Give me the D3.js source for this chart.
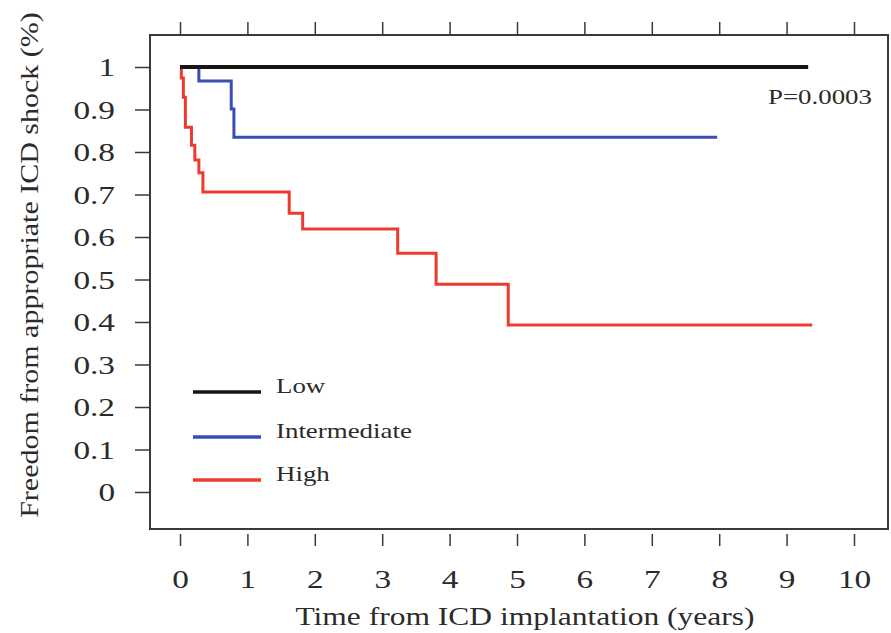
<!DOCTYPE html>
<html>
<head>
<meta charset="utf-8">
<script src="https://cdn.jsdelivr.net/npm/d3@7"></script>
<style>
  body { margin: 0; background: #fff; }
  svg text { font-family: "Liberation Serif", "Times New Roman", serif; fill: #2b2b2b; }
</style>
</head>
<body>
<div id="chart"></div>
<script>
// Kaplan-Meier curves (time in years, freedom from shock)
var lowTime = [0, 9.32];
var lowSurv = [1, 1];
var interTime = [0, 0.28, 0.76, 0.80, 7.97];
var interSurv = [1, 0.967, 0.901, 0.835, 0.835];
var highTime = [0, 0.02, 0.05, 0.08, 0.17, 0.22, 0.28, 0.34, 1.62, 1.82, 3.23, 3.80, 4.87, 9.38];
var highSurv = [1, 0.974, 0.929, 0.858, 0.816, 0.781, 0.751, 0.706, 0.656, 0.619, 0.562, 0.489, 0.393, 0.393];
var groupNames = ['Low', 'Intermediate', 'High'];
var groupColors = ['#161616', '#3a4db2', '#ef3b2f'];
var xTicks = [0, 1, 2, 3, 4, 5, 6, 7, 8, 9, 10];
var yTicks = [0, 0.1, 0.2, 0.3, 0.4, 0.5, 0.6, 0.7, 0.8, 0.9, 1];
var pText = 'P=0.0003';

(function() {
  var W = 891, H = 633, box, x, y, svg, line, series, stretch, legend;

  box = {left: 150, right: 888, top: 35, bottom: 529};
  x = d3.scaleLinear().domain([0, 10]).range([180, 854]);
  y = d3.scaleLinear().domain([0, 1]).range([492, 67]);

  svg = d3.select('#chart').append('svg').attr('width', W).attr('height', H);

  // widen serif text a bit, the source figure is stretched horizontally
  stretch = function(sel, k) {
    sel.each(function() {
      var w = this.getComputedTextLength();
      d3.select(this).attr('textLength', w * k).attr('lengthAdjust', 'spacingAndGlyphs');
    });
  };

  svg.append('rect').attr('x', box.left).attr('y', box.top)
    .attr('width', box.right - box.left).attr('height', box.bottom - box.top)
    .attr('fill', 'none').attr('stroke', '#3a3a3a').attr('stroke-width', 2);

  // left axis
  var yAxis = svg.append('g').attr('transform', 'translate(' + box.left + ',0)')
    .call(d3.axisLeft(y).tickValues(yTicks).tickSize(15).tickPadding(20)
      .tickFormat(function(d) { return d === 0 || d === 1 ? d3.format('d')(d) : d3.format('.1f')(d); }));
  yAxis.select('.domain').remove();
  yAxis.selectAll('line').attr('stroke', '#3a3a3a').attr('stroke-width', 1.5);
  yAxis.selectAll('text').attr('font-size', 26).attr('dy', '0.34em');
  stretch(yAxis.selectAll('text'), 1.28);

  // bottom axis, ticks detached from the frame
  var xAxis = svg.append('g').attr('transform', 'translate(0,534)')
    .call(d3.axisBottom(x).tickValues(xTicks).tickSize(12).tickPadding(24));
  xAxis.select('.domain').remove();
  xAxis.selectAll('line').attr('stroke', '#3a3a3a').attr('stroke-width', 1.5);
  xAxis.selectAll('text').attr('font-size', 26);
  stretch(xAxis.selectAll('text'), 1.28);

  // top axis, ticks only
  var xTop = svg.append('g').attr('transform', 'translate(0,' + box.top + ')')
    .call(d3.axisTop(x).tickValues(xTicks).tickSize(13).tickFormat(''));
  xTop.select('.domain').remove();
  xTop.selectAll('line').attr('stroke', '#3a3a3a').attr('stroke-width', 1.5);

  line = d3.line().curve(d3.curveStepAfter)
    .x(function(d) { return x(d[0]); }).y(function(d) { return y(d[1]); });

  series = [
    {name: groupNames[2], pts: d3.zip(highTime, highSurv), color: groupColors[2], w: 3},
    {name: groupNames[1], pts: d3.zip(interTime, interSurv), color: groupColors[1], w: 3},
    {name: groupNames[0], pts: d3.zip(lowTime, lowSurv), color: groupColors[0], w: 4}
  ];
  svg.selectAll('path.km').data(series).enter().append('path')
    .attr('class', 'km').attr('d', function(d) { return line(d.pts); })
    .attr('fill', 'none').attr('stroke', function(d) { return d.color; })
    .attr('stroke-width', function(d) { return d.w; });

  svg.append('text').attr('x', 872).attr('y', 104).attr('text-anchor', 'end')
    .attr('font-size', 21).text(pText).call(stretch, 1.28);

  // legend
  legend = svg.selectAll('g.leg').data(groupNames).enter().append('g')
    .attr('class', 'leg').attr('transform', function(d, i) { return 'translate(193,' + [392, 437, 480][i] + ')'; });
  legend.append('line').attr('x1', 0).attr('x2', 68)
    .attr('stroke', function(d, i) { return groupColors[i]; }).attr('stroke-width', 3.5);
  legend.append('text').attr('x', 83).attr('y', 1).attr('font-size', 21)
    .text(function(d) { return d; }).call(stretch, 1.28);

  svg.append('text').attr('x', 525).attr('y', 625).attr('text-anchor', 'middle')
    .attr('font-size', 25).text('Time from ICD implantation (years)').call(stretch, 1.26);

  svg.append('text').attr('transform', 'translate(38,265) rotate(-90)').attr('text-anchor', 'middle')
    .attr('font-size', 25).text('Freedom from appropriate ICD shock (%)').call(stretch, 1.2);
})();
</script>
</body>
</html>
